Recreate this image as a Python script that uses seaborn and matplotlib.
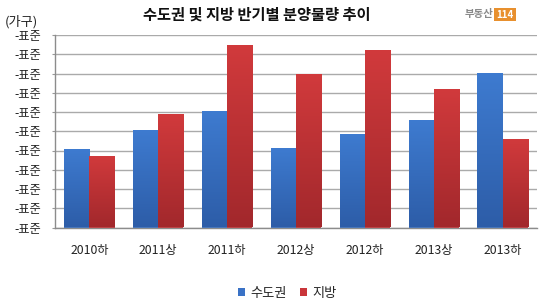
import numpy as np
import pandas as pd
import matplotlib
matplotlib.use("Agg")
import matplotlib.pyplot as plt
import matplotlib.colors as mcolors
from matplotlib.patches import Patch
import seaborn as sns

categories = ["2010하", "2011상", "2011하", "2012상", "2012하", "2013상", "2013하"]
capital = [4.07, 5.06, 6.03, 4.14, 4.84, 5.58, 8.04]
regional = [3.72, 5.89, 9.48, 7.95, 9.24, 7.18, 4.59]
series_names = ["수도권", "지방"]
ytick_labels = ["-표준"] * 11

df = pd.DataFrame({
    "period": categories * 2,
    "value": capital + regional,
    "series": [series_names[0]] * len(categories) + [series_names[1]] * len(categories),
})

sns.set_theme(style="white")
plt.rcParams["font.family"] = ["Noto Sans CJK KR", "DejaVu Sans"]

fig = plt.figure(figsize=(5.5, 3.08), dpi=100)
ax = fig.add_axes([55 / 550, 1 - 227.5 / 308, (537 - 55) / 550, (227.5 - 35) / 308])

palette = {"수도권": "#3A72C6", "지방": "#C9353A"}
sns.barplot(data=df, x="period", y="value", hue="series", palette=palette,
            width=0.73, gap=0, ax=ax, legend=False, saturation=1,
            edgecolor="none", linewidth=0, order=categories, hue_order=series_names)

# vertical gradient overlay clipped to each bar
grad_maps = {
    "#3a72c6": mcolors.LinearSegmentedColormap.from_list("b", ["#2D5DA8", "#3E7BD0"]),
    "#c9353a": mcolors.LinearSegmentedColormap.from_list("r", ["#A2282C", "#D13A3C"]),
}
for p in list(ax.patches):
    fc = mcolors.to_hex(p.get_facecolor()).lower()
    key = min(grad_maps, key=lambda k: np.sum(np.abs(np.array(mcolors.to_rgb(k)) - np.array(mcolors.to_rgb(fc)))))
    cmap = grad_maps[key]
    x0, y0 = p.get_x(), p.get_y()
    w, h = p.get_width(), p.get_height()
    g = np.linspace(0, 1, 100).reshape(-1, 1)
    im = ax.imshow(g, cmap=cmap, aspect="auto", origin="lower",
                   extent=[x0, x0 + w, y0, y0 + h], zorder=p.get_zorder() + 0.1)
    im.set_clip_path(p)

ax.set_xlim(-0.5, len(categories) - 0.5)
ax.set_ylim(0, 10)
ax.set_yticks(np.arange(0, 11))
ax.set_yticklabels(ytick_labels[::-1], fontsize=8.8, color="#222222")
ax.set_xticks(range(len(categories)))
ax.set_xticklabels(categories, fontsize=8.8, color="#222222")
ax.tick_params(axis="x", length=0, pad=12)
ax.tick_params(axis="y", length=2, width=0.8, color="#999999", pad=8, left=True)
ax.set_xlabel("")
ax.set_ylabel("")
ax.grid(axis="y", color="#AAAAAA", linewidth=1.0)
ax.set_axisbelow(True)
for s in ["top", "right"]:
    ax.spines[s].set_visible(False)
for s in ["left", "bottom"]:
    ax.spines[s].set_color("#8C8C8C")
    ax.spines[s].set_linewidth(1.0)

fig.text(257 / 550, 1 - 15 / 308, "수도권 및 지방 반기별 분양물량 추이", ha="center", va="center",
         fontsize=11, fontweight="bold", color="#111111")
fig.text(5 / 550, 1 - 22 / 308, "(가구)", ha="left", va="center", fontsize=9.5, color="#222222")
fig.text(493 / 550, 1 - 14.5 / 308, "부동산", ha="right", va="center", fontsize=7.5,
         color="#8A8A8A", fontweight="bold")
fig.text(505 / 550, 1 - 14.5 / 308, "114", ha="center", va="center", fontsize=7,
         color="white", fontweight="bold",
         bbox=dict(boxstyle="square,pad=0.2", facecolor="#E8902E", edgecolor="none"))

handles = [Patch(facecolor=palette[n], edgecolor="none") for n in series_names]
fig.legend(handles, series_names, loc="center", bbox_to_anchor=(287 / 550, 1 - 293 / 308),
           ncol=2, frameon=False, fontsize=9.5, handlelength=0.55, handleheight=0.55,
           handletextpad=0.4, columnspacing=1.0)

fig.savefig("out.png", dpi=100)
